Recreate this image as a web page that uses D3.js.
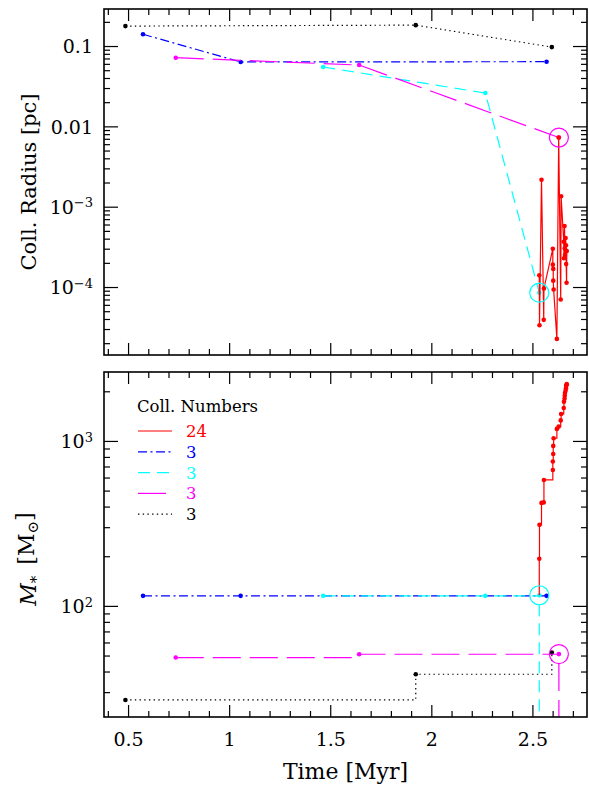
<!DOCTYPE html>
<html lang="en">
<head>
<meta charset="utf-8">
<style>
  body { margin: 0; background: #fff; }
  svg text { font-family: "DejaVu Serif", serif; fill: #000; }
</style>
</head>
<body>
<script src="https://cdn.jsdelivr.net/npm/d3@7"></script>
<script>

// collision times [Myr], collision radius [pc], stellar mass [Msun]
var redTime = [2.534, 2.535, 2.545, 2.556, 2.557, 2.601, 2.601, 2.603, 2.603, 2.605, 2.621, 2.630,
               2.640, 2.642, 2.655, 2.656, 2.659, 2.660, 2.661, 2.664, 2.666, 2.667, 2.669, 2.670];
var redRadius = [1.40e-4, 3.35e-5, 2.16e-3, 3.9e-5, 9.6e-5, 3.0e-4, 1.9e-4, 1.68e-4, 1.2e-4, 9.3e-5, 2.26e-5, 7.26e-3,
                 7.0e-5, 1.35e-3, 3.66e-4, 2.28e-4, 5.74e-4, 3.03e-4, 2.5e-4, 4.07e-4, 3.3e-4, 1.93e-4, 1.13e-4, 2.8e-4];
var redMass = [193, 310, 421, 424, 580, 667, 751, 834, 933, 1038, 1183, 1222,
               1332, 1458, 1585, 1730, 1800, 1879, 1950, 2015, 2090, 2161, 2190, 2210];

var blueTime = [0.574, 1.057, 2.570];
var blueRadius = [0.140, 0.0633, 0.0638];
var blueMass = [115, 115, 115];

var cyanTime = [1.465, 2.267, 2.534];
var cyanRadius = [0.0548, 0.026, 8.5e-5];
var cyanMass = [115, 115, 116];

var magentaTime = [0.736, 1.643, 2.631];
var magentaRadius = [0.0716, 0.058, 0.00726];
var magentaMass = [48.6, 50.9, 51.0];

var blackTime = [0.487, 1.923, 2.596];
var blackRadius = [0.177, 0.182, 0.097];
var blackMass = [26.9, 38.5, 52.1];

var collNumbers = ["24", "3", "3", "3", "3"];

var timeTicks = [0.5, 1, 1.5, 2, 2.5];
var radiusTicks = [0.1, 0.01, 1e-3, 1e-4];
var radiusLabels = [["0.1", ""], ["0.01", ""], ["10", "\u22123"], ["10", "\u22124"]];
var massTicks = [100, 1000];
var massLabels = [["10", "2"], ["10", "3"]];

var series = [
  {color: "#000000", dash: "1.4,3.3", time: blackTime, radius: blackRadius, mass: blackMass},
  {color: "#0000ff", dash: "9,3.5,2,3.5", time: blueTime, radius: blueRadius, mass: blueMass},
  {color: "#00ffff", dash: "12,7", time: cyanTime, radius: cyanRadius, mass: cyanMass, merged: true},
  {color: "#ff00ff", dash: "28,9", time: magentaTime, radius: magentaRadius, mass: magentaMass, merged: true},
  {color: "#ff0000", dash: null, time: redTime, radius: redRadius, mass: redMass}
];
var legendOrder = [4, 1, 2, 3, 0];

var width = 589, height = 791;
var left = 104, right = 587;
var top1 = 9, bot1 = 355, top2 = 372, bot2 = 717;

var x = d3.scaleLinear().domain([0.381, 2.77]).range([left, right]);
var yR = d3.scaleLog().domain([1.425e-5, 0.289]).range([bot1, top1]);
var yM = d3.scaleLog().domain([21.2, 2618]).range([bot2, top2]);

var svg = d3.select("body").append("svg")
  .attr("width", width)
  .attr("height", height);

var defs = svg.append("defs");
defs.append("clipPath").attr("id", "clip1").append("rect")
  .attr("x", left).attr("y", top1).attr("width", right - left).attr("height", bot1 - top1);
defs.append("clipPath").attr("id", "clip2").append("rect")
  .attr("x", left).attr("y", top2).attr("width", right - left).attr("height", bot2 - top2);

function logMinors(scale) {
  var d = scale.domain(), out = [];
  for (var e = Math.floor(Math.log10(d[0])); e <= Math.ceil(Math.log10(d[1])); e++) {
    for (var m = 2; m <= 9; m++) {
      var v = m * Math.pow(10, e);
      if (v > d[0] && v < d[1]) out.push(v);
    }
  }
  return out;
}

function xMinors() {
  var out = [];
  for (var i = 4; i <= 27; i++) { if (i % 5 != 0) out.push(i / 10); }
  return out;
}

function frame(y, y0, y1, showX) {
  var g = svg.append("g").attr("class", "axes");

  // bottom + top time ticks
  g.append("g").attr("transform", "translate(0," + y1 + ")")
    .call(d3.axisBottom(x).tickValues(timeTicks).tickSizeInner(-12).tickSizeOuter(0).tickPadding(16)
      .tickFormat(showX ? function(d) { return d; } : ""));
  g.append("g").attr("transform", "translate(0," + y1 + ")")
    .call(d3.axisBottom(x).tickValues(xMinors()).tickSizeInner(-6).tickSizeOuter(0).tickFormat(""));
  g.append("g").attr("transform", "translate(0," + y0 + ")")
    .call(d3.axisTop(x).tickValues(timeTicks).tickSizeInner(-12).tickSizeOuter(0).tickFormat(""));
  g.append("g").attr("transform", "translate(0," + y0 + ")")
    .call(d3.axisTop(x).tickValues(xMinors()).tickSizeInner(-6).tickSizeOuter(0).tickFormat(""));

  // left + right log ticks
  var major = y === yR ? radiusTicks : massTicks;
  var labels = y === yR ? radiusLabels : massLabels;
  var yl = g.append("g").attr("transform", "translate(" + left + ",0)")
    .call(d3.axisLeft(y).tickValues(major).tickSizeInner(-14).tickSizeOuter(0).tickPadding(11)
      .tickFormat(""));
  g.append("g").attr("transform", "translate(" + left + ",0)")
    .call(d3.axisLeft(y).tickValues(logMinors(y)).tickSizeInner(-6).tickSizeOuter(0).tickFormat(""));
  g.append("g").attr("transform", "translate(" + right + ",0)")
    .call(d3.axisRight(y).tickValues(major).tickSizeInner(-14).tickSizeOuter(0).tickFormat(""));
  g.append("g").attr("transform", "translate(" + right + ",0)")
    .call(d3.axisRight(y).tickValues(logMinors(y)).tickSizeInner(-6).tickSizeOuter(0).tickFormat(""));

  g.selectAll(".tick text").attr("font-size", 19).attr("font-family", "DejaVu Serif");

  yl.selectAll(".tick text").each(function(d, i) {
    var t = d3.select(this).text(labels[i][0]).attr("font-size", 19).attr("dy", "0.35em");
    if (labels[i][1]) {
      t.append("tspan").attr("dy", "-0.5em").attr("font-size", 13).text(labels[i][1]);
    }
  });

  g.selectAll("path.domain").remove();
  g.selectAll(".tick line").attr("stroke", "#000").attr("stroke-width", 1.2);

  svg.append("rect")
    .attr("x", left).attr("y", y0)
    .attr("width", right - left).attr("height", y1 - y0)
    .attr("fill", "none").attr("stroke", "#000").attr("stroke-width", 1.6);
}

var p1 = svg.append("g").attr("clip-path", "url(#clip1)");
var p2 = svg.append("g").attr("clip-path", "url(#clip2)");

var lineR = d3.line().x(function(d) { return x(d.t); }).y(function(d) { return yR(d.r); });
var lineM = d3.line().curve(d3.curveStepAfter)
  .x(function(d) { return x(d.t); }).y(function(d) { return yM(d.m); });

var cyan = series[2];

series.forEach(function(s) {
  var pts = s.time.map(function(t, i) { return {t: t, r: s.radius[i], m: s.mass[i]}; });
  var path = pts.slice();
  // red starts where the cyan star merges into it
  if (s.color == "#ff0000") {
    path.unshift({t: cyan.time[2], r: cyan.radius[2], m: cyan.mass[2]});
  }

  // top panel: collision radius
  p1.append("path").datum(path)
    .attr("d", lineR)
    .attr("fill", "none").attr("stroke", s.color).attr("stroke-width", 1.2)
    .attr("stroke-dasharray", s.dash);
  p1.selectAll(null).data(pts).enter().append("circle")
    .attr("cx", function(d) { return x(d.t); })
    .attr("cy", function(d) { return yR(d.r); })
    .attr("r", 2.3).attr("fill", s.color);

  // bottom panel: mass
  p2.append("path").datum(path)
    .attr("d", lineM)
    .attr("fill", "none").attr("stroke", s.color).attr("stroke-width", 1.2)
    .attr("stroke-dasharray", s.dash);
  // merged stars drop out of the plot after the merger
  if (s.merged) {
    var last = pts[pts.length - 1];
    p2.append("path").datum([last, {t: last.t, m: yM.domain()[0] / 2}])
      .attr("d", lineM)
      .attr("fill", "none").attr("stroke", s.color).attr("stroke-width", 1.2)
      .attr("stroke-dasharray", s.dash).attr("stroke-dashoffset", -9);
  }
  p2.selectAll(null).data(pts).enter().append("circle")
    .attr("cx", function(d) { return x(d.t); })
    .attr("cy", function(d) { return yM(d.m); })
    .attr("r", 2.3).attr("fill", s.color);
});

// merger markers
[series[2], series[3]].forEach(function(s) {
  var n = s.time.length - 1;
  p1.append("circle").attr("cx", x(s.time[n])).attr("cy", yR(s.radius[n])).attr("r", 9.5)
    .attr("fill", "none").attr("stroke", s.color).attr("stroke-width", 1.2);
  p2.append("circle").attr("cx", x(s.time[n])).attr("cy", yM(s.mass[n])).attr("r", 9.5)
    .attr("fill", "none").attr("stroke", s.color).attr("stroke-width", 1.2);
});

frame(yR, top1, bot1, false);
frame(yM, top2, bot2, true);

// axis titles
svg.append("text")
  .attr("transform", "translate(36," + (top1 + bot1) / 2 + ") rotate(-90)")
  .attr("text-anchor", "middle").attr("font-size", 21)
  .text("Coll. Radius [pc]");

var ym = svg.append("text")
  .attr("transform", "translate(36,559) rotate(-90)")
  .attr("text-anchor", "middle").attr("font-size", 22);
ym.append("tspan").attr("font-style", "italic").text("M");
ym.append("tspan").attr("font-size", 15).attr("dy", "0.3em").text("*");
ym.append("tspan").attr("dy", "-0.3em").text("\u2002[M");
ym.append("tspan").attr("font-size", 15).attr("dy", "0.3em").text("\u2299");
ym.append("tspan").attr("dy", "-0.3em").text("]");

svg.append("text")
  .attr("x", (left + right) / 2).attr("y", 779)
  .attr("text-anchor", "middle").attr("font-size", 22)
  .text("Time [Myr]");

// legend
var legend = svg.append("g").attr("class", "legend");
legend.append("text").attr("x", 137).attr("y", 412).attr("font-size", 16.5).text("Coll. Numbers");

legendOrder.forEach(function(k, i) {
  var s = series[k];
  var ly = 431 + i * 20.8;
  legend.append("line")
    .attr("x1", 138).attr("x2", 172).attr("y1", ly).attr("y2", ly)
    .attr("stroke", s.color).attr("stroke-width", 1.2)
    .attr("stroke-dasharray", s.dash);
  legend.append("text")
    .attr("x", 186).attr("y", ly + 6)
    .attr("font-size", 16.5).style("fill", s.color)
    .text(collNumbers[i]);
});

</script>
</body>
</html>
